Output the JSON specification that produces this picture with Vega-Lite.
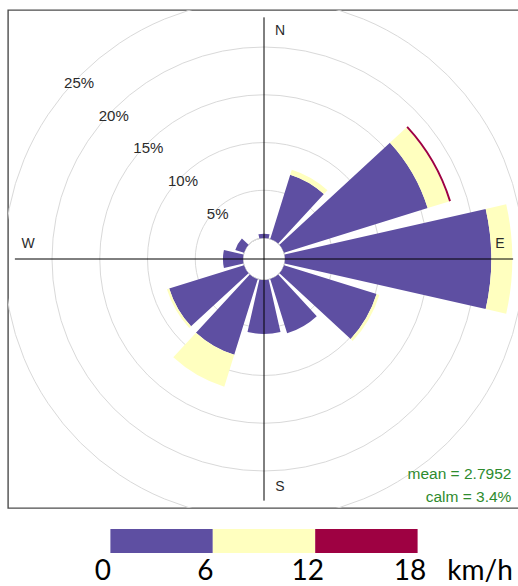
{
  "$schema": "https://vega.github.io/schema/vega-lite/v6.json",
  "padding": {"left": 7, "top": 9, "right": 0, "bottom": 0},
  "autosize": {"type": "pad"},
  "spacing": 20,
  "background": "white",
  "config": {"font": "Liberation Sans", "view": {"stroke": null}},
  "datasets": {
    "rose": [
      {"dir": 0, "speed": "0-6", "lo": 0, "hi": 0.45},
      {"dir": 30, "speed": "0-6", "lo": 0, "hi": 7.05},
      {"dir": 30, "speed": "6-12", "lo": 7.05, "hi": 7.6},
      {"dir": 60, "speed": "0-6", "lo": 0, "hi": 15.75},
      {"dir": 60, "speed": "6-12", "lo": 15.75, "hi": 18.1},
      {"dir": 60, "speed": "12-18", "lo": 18.1, "hi": 18.3},
      {"dir": 90, "speed": "0-6", "lo": 0, "hi": 21.6},
      {"dir": 90, "speed": "6-12", "lo": 21.6, "hi": 23.8},
      {"dir": 120, "speed": "0-6", "lo": 0, "hi": 10.15},
      {"dir": 120, "speed": "6-12", "lo": 10.15, "hi": 10.45},
      {"dir": 150, "speed": "0-6", "lo": 0, "hi": 5.95},
      {"dir": 180, "speed": "0-6", "lo": 0, "hi": 5.65},
      {"dir": 210, "speed": "0-6", "lo": 0, "hi": 8.3},
      {"dir": 210, "speed": "6-12", "lo": 8.3, "hi": 11.8},
      {"dir": 240, "speed": "0-6", "lo": 0, "hi": 8.2},
      {"dir": 240, "speed": "6-12", "lo": 8.2, "hi": 8.45},
      {"dir": 270, "speed": "0-6", "lo": 0, "hi": 2.1},
      {"dir": 300, "speed": "0-6", "lo": 0, "hi": 0.95}
    ],
    "grid": [
      {"pct": 5, "label": "5%"},
      {"pct": 10, "label": "10%"},
      {"pct": 15, "label": "15%"},
      {"pct": 20, "label": "20%"},
      {"pct": 25, "label": "25%"}
    ],
    "bins": [
      {"speed": "0-6", "lo": 0, "hi": 6},
      {"speed": "6-12", "lo": 6, "hi": 12},
      {"speed": "12-18", "lo": 12, "hi": 18}
    ]
  },
  "vconcat": [
    {
      "width": 512,
      "height": 498,
      "view": {"stroke": "#4d4d4d", "strokeWidth": 1.4},
      "layer": [
        {
          "data": {"name": "grid"},
          "mark": {"type": "arc", "filled": false, "stroke": "#d9d9d9", "strokeWidth": 1, "clip": true},
          "encoding": {
            "theta": {"datum": 0, "type": "quantitative", "scale": {"type": "linear", "domain": [0, 360], "range": [0, 6.283185307179586], "nice": false, "zero": false}},
            "theta2": {"datum": 360},
            "radius": {"field": "pct", "type": "quantitative", "stack": null, "scale": {"type": "linear", "domain": [0, 25], "range": [21, 259.75], "nice": false, "zero": false}}
          }
        },
        {
          "data": {"name": "rose"},
          "mark": {"type": "arc", "thetaOffset": -0.222, "theta2Offset": 0.222},
          "encoding": {
            "theta": {"field": "dir", "type": "quantitative", "stack": null, "scale": {"type": "linear", "domain": [0, 360], "range": [0, 6.283185307179586], "nice": false, "zero": false}},
            "theta2": {"field": "dir"},
            "radius": {"field": "lo", "type": "quantitative", "stack": null, "scale": {"type": "linear", "domain": [0, 25], "range": [21, 259.75], "nice": false, "zero": false}},
            "radius2": {"field": "hi"},
            "color": {"field": "speed", "type": "nominal", "scale": {"domain": ["0-6", "6-12", "12-18"], "range": ["#5E4FA2", "#FFFFBF", "#9E0142"]}, "legend": null}
          }
        },
        {
          "data": {"values": [{"line": "v"}]},
          "mark": {"type": "rule", "color": "#000000", "strokeWidth": 1},
          "encoding": {
            "x": {"datum": 0, "type": "quantitative", "scale": {"domain": [-26.8, 26.8], "nice": false, "zero": false}, "axis": null},
            "y": {"datum": -25.3, "type": "quantitative", "scale": {"domain": [-26.07, 26.07], "nice": false, "zero": false}, "axis": null},
            "y2": {"datum": 25.3}
          }
        },
        {
          "data": {"values": [{"line": "h"}]},
          "mark": {"type": "rule", "color": "#000000", "strokeWidth": 1},
          "encoding": {
            "y": {"datum": 0, "type": "quantitative", "scale": {"domain": [-26.07, 26.07], "nice": false, "zero": false}, "axis": null},
            "x": {"datum": -26.08, "type": "quantitative", "scale": {"domain": [-26.8, 26.8], "nice": false, "zero": false}, "axis": null},
            "x2": {"datum": 26.08}
          }
        },
        {
          "data": {"name": "grid"},
          "mark": {"type": "text", "fontSize": 15, "color": "#2b2b2b", "align": "center", "baseline": "middle", "dx": 3.5, "dy": 2.5},
          "encoding": {
            "theta": {"datum": 313.5, "type": "quantitative"},
            "radius": {"field": "pct", "type": "quantitative", "stack": null},
            "text": {"field": "label"}
          }
        },
        {
          "data": {"values": [{"dir": 0, "label": "N"}, {"dir": 180, "label": "S"}]},
          "mark": {"type": "text", "fontSize": 14, "color": "#2b2b2b", "align": "center", "baseline": "middle", "dx": 16},
          "encoding": {
            "theta": {"field": "dir", "type": "quantitative", "stack": null},
            "radius": {"datum": 21.7, "type": "quantitative"},
            "text": {"field": "label"}
          }
        },
        {
          "data": {"values": [{"dir": 90, "label": "E"}, {"dir": 270, "label": "W"}]},
          "mark": {"type": "text", "fontSize": 14, "color": "#2b2b2b", "align": "center", "baseline": "middle", "dy": -15},
          "encoding": {
            "theta": {"field": "dir", "type": "quantitative", "stack": null},
            "radius": {"datum": 22.5, "type": "quantitative"},
            "text": {"field": "label"}
          }
        },
        {
          "data": {"values": [{"label": "mean = 2.7952\ncalm = 3.4%"}]},
          "mark": {"type": "text", "fontSize": 15.5, "color": "#2e8b2e", "align": "right", "baseline": "alphabetic", "lineBreak": "\n", "lineHeight": 23},
          "encoding": {
            "x": {"datum": 25.9, "type": "quantitative"},
            "y": {"datum": -23.0, "type": "quantitative"},
            "text": {"field": "label"}
          }
        }
      ]
    },
    {
      "width": 512,
      "height": 24,
      "view": {"stroke": null},
      "data": {"name": "bins"},
      "mark": {"type": "rect"},
      "encoding": {
        "x": {
          "field": "lo",
          "type": "quantitative",
          "scale": {"domain": [-6, 24], "nice": false, "zero": false},
          "axis": {
            "values": [0, 6, 12, 18, 22.1],
            "labelExpr": "datum.value > 20 ? 'km/h' : datum.label",
            "domain": false,
            "ticks": false,
            "grid": false,
            "title": null,
            "labelFont": "Lato",
            "labelFontSize": 28,
            "labelColor": "#000000",
            "labelPadding": 4,
            "labelOffset": -8,
            "labelOverlap": false,
            "labelFlush": false,
            "labelBound": false
          }
        },
        "x2": {"field": "hi"},
        "color": {"field": "speed", "type": "nominal", "scale": {"domain": ["0-6", "6-12", "12-18"], "range": ["#5E4FA2", "#FFFFBF", "#9E0142"]}, "legend": null}
      }
    }
  ]
}
